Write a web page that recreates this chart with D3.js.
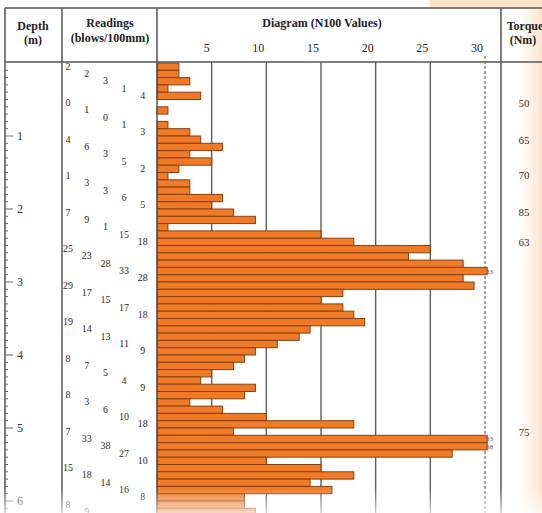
<!DOCTYPE html>
<html>
<head>
<meta charset="utf-8">
<script src="https://cdn.jsdelivr.net/npm/d3@7"></script>
<style>
  body { margin: 0; background: #fff; }
  svg { display: block; font-family: "Liberation Serif", "DejaVu Serif", serif; }
</style>
</head>
<body>
<script>
// blows per 100mm, one per 0.1 m of depth
const readings = [2, 2, 3, 1, 4, 0, 1, 0, 1, 3,
                  4, 6, 3, 5, 2, 1, 3, 3, 6, 5,
                  7, 9, 1, 15, 18, 25, 23, 28, 33, 28,
                  29, 17, 15, 17, 18, 19, 14, 13, 11, 9,
                  8, 7, 5, 4, 9, 8, 3, 6, 10, 18,
                  7, 33, 38, 27, 10, 15, 18, 14, 16, 8,
                  8, 9];
const depthTicks = [1, 2, 3, 4, 5, 6];
const nTicks = [5, 10, 15, 20, 25];
const nMax = 30;
const torqueDepths = [0.55, 1.05, 1.53, 2.04, 2.45, 5.05];
const torqueValues = [50, 65, 70, 85, 63, 75];

const width = 542, height = 513;
const topY = 8, headBottom = 62;
const colDepth = 5, colRead = 62, colDiag = 157, colTorque = 501;

let svg = d3.select("body").append("svg")
    .attr("width", width)
    .attr("height", height);

let defs = svg.append("defs");
let fadeB = defs.append("linearGradient").attr("id", "fadeB")
    .attr("x1", 0).attr("y1", 0).attr("x2", 0).attr("y2", 1);
fadeB.append("stop").attr("offset", 0).attr("stop-color", "#fff").attr("stop-opacity", 0);
fadeB.append("stop").attr("offset", 1).attr("stop-color", "#fff").attr("stop-opacity", 0.7);
let fadeR = defs.append("linearGradient").attr("id", "fadeR")
    .attr("x1", 0).attr("y1", 0).attr("x2", 1).attr("y2", 0);
fadeR.append("stop").attr("offset", 0).attr("stop-color", "#fbe3cc").attr("stop-opacity", 0);
fadeR.append("stop").attr("offset", 1).attr("stop-color", "#fbe3cc").attr("stop-opacity", 1);

// background tint
svg.append("rect").attr("x", 430).attr("y", 0).attr("width", 112).attr("height", topY)
    .attr("fill", "#fde4ca");
svg.append("rect").attr("x", 520).attr("y", topY).attr("width", 22).attr("height", height - topY)
    .attr("fill", "url(#fadeR)");

let y = d3.scaleLinear().domain([0, 6]).range([63, 501]);
let x = d3.scaleLinear().domain([0, nMax]).range([colDiag, 485]);

// grid lines
svg.selectAll(".grid")
    .data(nTicks)
    .join("line")
    .attr("x1", d => x(d)).attr("x2", d => x(d))
    .attr("y1", headBottom).attr("y2", height)
    .attr("stroke", "#5e5e5e").attr("stroke-width", 1.4);

svg.append("line")
    .attr("x1", x(nMax)).attr("x2", x(nMax))
    .attr("y1", 56).attr("y2", height)
    .attr("stroke", "#777").attr("stroke-width", 1.3)
    .attr("stroke-dasharray", "3,2");

// bars
let bh = y(0.1) - y(0);
let bars = readings.map((v, i) => ({v: v, d: i / 10}));
svg.selectAll(".bar")
    .data(bars.filter(b => b.v > 0))
    .join("rect")
    .attr("x", x(0))
    .attr("y", d => y(d.d))
    .attr("width", d => x(Math.min(d.v, 30.2)) - x(0))
    .attr("height", bh)
    .attr("fill", "#f07a26")
    .attr("stroke", "#86400f")
    .attr("stroke-width", 1);

svg.selectAll(".over")
    .data(bars.filter(b => b.v > nMax))
    .join("text")
    .attr("x", x(nMax) + 1)
    .attr("y", d => y(d.d) + bh / 2 + 2.5)
    .attr("font-size", 7)
    .attr("fill", "#556")
    .text(d => d.v);

// readings, staggered in groups of five
svg.selectAll(".reading")
    .data(bars)
    .join("text")
    .attr("x", (d, i) => 68 + 18.7 * (i % 5))
    .attr("y", d => y(d.d) + bh / 2 + 3)
    .attr("text-anchor", "middle")
    .attr("font-size", 10)
    .attr("fill", "#2a2a2a")
    .text(d => d.v);

// depth axis
let minor = d3.range(1, 62).map(i => i / 10);
svg.selectAll(".minor")
    .data(minor)
    .join("line")
    .attr("x1", colDepth).attr("x2", d => Math.abs(d - Math.round(d)) < 1e-6 ? 13 : 8)
    .attr("y1", d => y(d)).attr("y2", d => y(d))
    .attr("stroke", "#666").attr("stroke-width", 1);
svg.selectAll(".dlab")
    .data(depthTicks)
    .join("text")
    .attr("x", 17)
    .attr("y", d => y(d) + 4)
    .attr("font-size", 12)
    .attr("fill", "#333")
    .text(d => d);

// N100 tick labels
svg.selectAll(".nlab")
    .data(nTicks.concat([nMax]))
    .join("text")
    .attr("x", d => x(d) - 2)
    .attr("y", 52)
    .attr("text-anchor", "end")
    .attr("font-size", 12)
    .attr("fill", "#222")
    .text(d => d);

// torque values
svg.selectAll(".torque")
    .data(torqueValues)
    .join("text")
    .attr("x", 524)
    .attr("y", (d, i) => y(torqueDepths[i]) + 4)
    .attr("text-anchor", "middle")
    .attr("font-size", 11)
    .attr("fill", "#333")
    .text(d => d);

// frame
let frame = svg.append("g").attr("stroke", "#555").attr("stroke-width", 1.5);
frame.append("line").attr("x1", colDepth).attr("x2", width).attr("y1", topY).attr("y2", topY);
frame.append("line").attr("x1", colDepth).attr("x2", width).attr("y1", headBottom).attr("y2", headBottom);
[colDepth, colRead, colDiag, colTorque].forEach(c => {
    frame.append("line").attr("x1", c).attr("x2", c).attr("y1", topY).attr("y2", height);
});

// headers
let heads = [
    {t: "Depth", x: 33, y: 30}, {t: "(m)", x: 33, y: 44},
    {t: "Readings", x: 110, y: 27}, {t: "(blows/100mm)", x: 110, y: 42},
    {t: "Diagram (N100 Values)", x: 322, y: 27},
    {t: "Torque", x: 525, y: 30}, {t: "(Nm)", x: 523, y: 44}
];
svg.selectAll(".head")
    .data(heads)
    .join("text")
    .attr("x", d => d.x)
    .attr("y", d => d.y)
    .attr("text-anchor", "middle")
    .attr("font-size", 12)
    .attr("font-weight", 600)
    .attr("fill", "#222")
    .text(d => d.t);

// faded bottom edge
svg.append("rect").attr("x", 0).attr("y", 488).attr("width", width).attr("height", height - 488)
    .attr("fill", "url(#fadeB)");
</script>
</body>
</html>
